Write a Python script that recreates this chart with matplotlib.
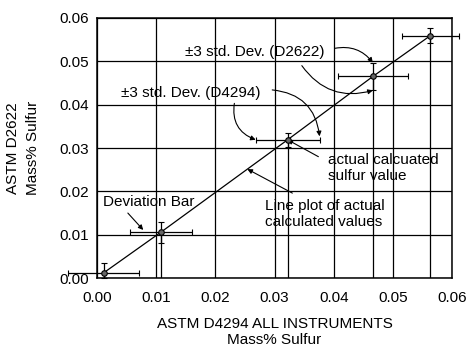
import numpy as np
import matplotlib
matplotlib.use('Agg')
import matplotlib.pyplot as plt

plt.rcParams['font.family'] = ['Liberation Sans', 'DejaVu Sans']
plt.rcParams['font.size'] = 11

# ASTM D4294 (x) vs ASTM D2622 (y), mass% sulfur
x_d4294 = [0.0011, 0.0108, 0.0322, 0.0466, 0.0563]
y_d2622 = [0.0012, 0.0106, 0.0319, 0.0465, 0.0559]
# +-3 std. dev.
xerr_d4294 = [0.0060, 0.0053, 0.0054, 0.0059, 0.0048]
yerr_d2622 = [0.0022, 0.0024, 0.0016, 0.0032, 0.0017]
ticks = [0.00, 0.01, 0.02, 0.03, 0.04, 0.05, 0.06]

x = np.array(x_d4294)
y = np.array(y_d2622)
xe = np.array(xerr_d4294)
ye = np.array(yerr_d2622)
ye_low = np.minimum(ye, y)  # bar stops at the axis

fig = plt.figure(figsize=(4.69, 3.52), dpi=100)
ax = fig.add_axes([0.207, 0.210, 0.757, 0.739])

ax.set_xlim(0, 0.06)
ax.set_ylim(0, 0.06)
ax.set_xticks(ticks)
ax.set_yticks(ticks)
ax.set_xticklabels(['%.2f' % t for t in ticks])
ax.set_yticklabels(['%.2f' % t for t in ticks])
ax.tick_params(length=0, pad=9, axis='x')
ax.tick_params(length=0, pad=6, axis='y')
ax.grid(True, color='black', lw=0.9)
for s in ax.spines.values():
    s.set_linewidth(1.1)

# drop lines from each point to the x axis
ax.vlines(x, 0, y, color='black', lw=0.9)

# line plot of actual values
ax.plot(x, y, color='black', lw=0.9)

eb = ax.errorbar(x, y, xerr=xe, yerr=[ye_low, ye], fmt='o', ms=4,
                 mfc='#666666', mec='black', mew=0.8, ecolor='black',
                 elinewidth=0.9, capsize=2.5, capthick=0.9, clip_on=False,
                 zorder=4)
for art in eb.get_children():
    art.set_clip_on(False)

arrow = dict(arrowstyle='-|>', color='black', lw=0.8, mutation_scale=7,
             shrinkA=0, shrinkB=0)

# +-3 std dev (D2622)
ax.text(0.0149, 0.0521, '±3 std. Dev. (D2622)', ha='left', va='center')
ax.annotate('', xy=(x[3], y[3] + ye[3]), xytext=(0.0402, 0.0530),
            arrowprops=dict(arrow, connectionstyle='arc3,rad=-0.3'))
ax.annotate('', xy=(x[3], y[3] - ye[3]), xytext=(0.0346, 0.0490),
            arrowprops=dict(arrow, connectionstyle='arc3,rad=0.35'))

# +-3 std dev (D4294)
ax.text(0.0041, 0.0427, '±3 std. Dev. (D4294)', ha='left', va='center')
ax.annotate('', xy=(x[2] + xe[2], y[2] + 0.0008), xytext=(0.0296, 0.0434),
            arrowprops=dict(arrow, connectionstyle='arc3,rad=-0.4'))
ax.annotate('', xy=(x[2] - xe[2], y[2]), xytext=(0.0232, 0.0403),
            arrowprops=dict(arrow, connectionstyle='arc3,rad=0.4'))

# actual value
ax.text(0.0390, 0.0254, 'actual calcuated\nsulfur value', ha='left', va='center')
ax.annotate('', xy=(x[2], y[2]), xytext=(0.0374, 0.0280),
            arrowprops=dict(arrow, connectionstyle='arc3,rad=0'))

# line plot
ax.text(0.0284, 0.0148, 'Line plot of actual\ncalculated values', ha='left', va='center')
xl = 0.0254
ax.annotate('', xy=(xl, np.interp(xl, x, y)), xytext=(0.0330, 0.0196),
            arrowprops=dict(arrow, connectionstyle='arc3,rad=0'))

# deviation bar
ax.text(0.0010, 0.0175, 'Deviation Bar', ha='left', va='center')
ax.annotate('', xy=(0.0078, y[1] + 0.0005), xytext=(0.0052, 0.0150),
            arrowprops=dict(arrow, connectionstyle='arc3,rad=0'))

ax.set_xlabel('ASTM D4294 ALL INSTRUMENTS\nMass% Sulfur', labelpad=9)
ax.set_ylabel('ASTM D2622\nMass% Sulfur', labelpad=14, linespacing=1.5)

fig.savefig('out.png', dpi=100)
